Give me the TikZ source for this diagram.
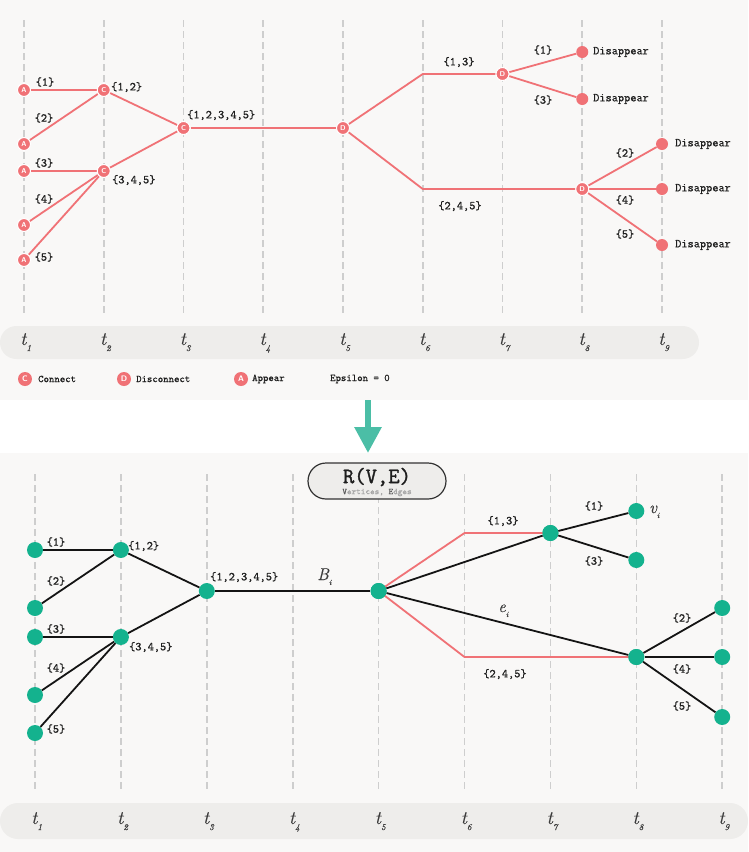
\documentclass[tikz,border=0pt]{standalone}
\usepackage{fontspec}
\newfontfamily\labfont{Latin Modern Mono}[FakeBold=0.7]
\newfontfamily\titlefont{Latin Modern Mono}[FakeBold=1.4]
\newfontfamily\itfont{Latin Modern Roman}[FakeBold=0.4]
\usetikzlibrary{arrows.meta}
\definecolor{coral}{RGB}{240,114,118}
\definecolor{tealn}{RGB}{20,178,142}
\definecolor{arrowc}{RGB}{75,190,166}
\definecolor{bgc}{RGB}{249,248,247}
\definecolor{barc}{RGB}{238,237,235}
\definecolor{gridc}{RGB}{206,206,206}
\definecolor{txt}{RGB}{30,30,30}
\definecolor{mutec}{RGB}{60,60,60}
\tikzset{
  lbl/.style={font=\fontsize{12}{12}\selectfont\labfont, text=txt, inner sep=0pt},
  leg/.style={font=\fontsize{10.3}{10.3}\selectfont\labfont, text=txt, inner sep=0pt, anchor=west},
  gridline/.style={draw=gridc, line width=1.6pt, dash pattern=on 7pt off 4pt},
  redline/.style={draw=coral, line width=1.8pt},
  blkline/.style={draw=black!92, line width=1.8pt},
  ev/.style={circle, fill=coral, draw=white, line width=1pt, minimum size=13pt, inner sep=0pt, text=white, font=\sffamily\bfseries\fontsize{7}{7}\selectfont},
  legdot/.style={circle, fill=coral, minimum size=14pt, inner sep=0pt, text=white, font=\sffamily\bfseries\fontsize{8}{8}\selectfont},
  gone/.style={circle, fill=coral, minimum size=12pt, inner sep=0pt},
  vx/.style={circle, fill=tealn, minimum size=16pt, inner sep=0pt},
  tlab/.style={font=\fontsize{19}{19}\selectfont\itfont\itshape, text=mutec, inner sep=0pt, anchor=base west},
  mlab/.style={font=\fontsize{17}{17}\selectfont\itfont\itshape, text=mutec, inner sep=0pt},
  bar/.style={fill=barc, draw=none}
}
\newcommand{\tsub}[1]{t\raisebox{-6pt}{\fontsize{9}{9}\selectfont #1}}
\newcommand{\isub}{\raisebox{-5pt}{\fontsize{8}{8}\selectfont i}}
\begin{document}
\begin{tikzpicture}[x=1pt,y=-1pt]
\path[use as bounding box] (0,0) rectangle (748,852);
% panels
\fill[bgc] (0,0) rectangle (748,399.5);
\fill[bgc] (0,453) rectangle (748,852);

% ---------------- TOP PANEL ----------------
\foreach \x in {24,103.75,183.5,263.25,343,422.75,502.5,582.25,662}
  \draw[gridline] (\x,20) -- (\x,314);
\fill[bar, rounded corners=16.5pt] (0,326) rectangle (699,359);
\foreach \x/\n in {24/1,103.75/2,183.5/3,263.25/4,343/5,422.75/6,502.5/7,582.25/8,662/9}
  \node[tlab] (tt\n) at (\x-4,345) {\tsub{\n}};

% nodes
\node[ev] (A1) at (24,90) {A};
\node[ev] (A2) at (24,144) {A};
\node[ev] (A3) at (24,171) {A};
\node[ev] (A4) at (24,225) {A};
\node[ev] (A5) at (24,260) {A};
\node[ev] (C12) at (103.75,90) {C};
\node[ev] (C345) at (103.75,171) {C};
\node[ev] (Call) at (183.5,128) {C};
\node[ev] (D1) at (343,128) {D};
\coordinate (uT) at (422.75,74);
\coordinate (lT) at (422.75,189);
\node[ev] (D2) at (502.5,74) {D};
\node[ev] (D3) at (582.25,189) {D};
\node[gone] (G1) at (582.25,52) {};
\node[gone] (G3) at (582.25,99) {};
\node[gone] (G2) at (662,144) {};
\node[gone] (G4) at (662,189) {};
\node[gone] (G5) at (662,245) {};

\draw[redline] (A1) -- (C12);
\draw[redline] (A2) -- (C12);
\draw[redline] (A3) -- (C345);
\draw[redline] (A4) -- (C345);
\draw[redline] (A5) -- (C345);
\draw[redline] (C12) -- (Call);
\draw[redline] (C345) -- (Call);
\draw[redline] (Call) -- (D1);
\draw[redline, line join=round] (D1) -- (uT) -- (D2);
\draw[redline, line join=round] (D1) -- (lT) -- (D3);
\draw[redline] (D2) -- (G1);
\draw[redline] (D2) -- (G3);
\draw[redline] (D3) -- (G2);
\draw[redline] (D3) -- (G4);
\draw[redline] (D3) -- (G5);
% redraw event nodes on top of the lines
\foreach \nm/\x/\y/\l in {A1/24/90/A,A2/24/144/A,A3/24/171/A,A4/24/225/A,A5/24/260/A,C12/103.75/90/C,C345/103.75/171/C,Call/183.5/128/C,D1/343/128/D,D2/502.5/74/D,D3/582.25/189/D}
  \node[ev] (\nm top) at (\x,\y) {\l};

% top labels
\node[lbl] (l1) at (45,82) {\{1\}};
\node[lbl] (l2) at (44,118) {\{2\}};
\node[lbl] (l3) at (44,163) {\{3\}};
\node[lbl] (l4) at (44,199) {\{4\}};
\node[lbl] (l5) at (44,257) {\{5\}};
\node[lbl, anchor=west] (l12) at (111,87) {\{1,2\}};
\node[lbl, anchor=west] (l345) at (112,180) {\{3,4,5\}};
\node[lbl, anchor=west] (lall) at (187,115) {\{1,2,3,4,5\}};
\node[lbl] (l13) at (459,62) {\{1,3\}};
\node[lbl] (l1b) at (543,50) {\{1\}};
\node[lbl] (l3b) at (543,100) {\{3\}};
\node[lbl] (l245) at (460,206) {\{2,4,5\}};
\node[lbl] (l2b) at (625,153) {\{2\}};
\node[lbl] (l4b) at (625,200) {\{4\}};
\node[lbl] (l5b) at (625,234) {\{5\}};
\node[lbl, anchor=west] (dg1) at (593,52) {Disappear};
\node[lbl, anchor=west] (dg3) at (593,99) {Disappear};
\node[lbl, anchor=west] (dg2) at (675,144) {Disappear};
\node[lbl, anchor=west] (dg4) at (675,189) {Disappear};
\node[lbl, anchor=west] (dg5) at (675,245) {Disappear};

% legend
\node[legdot] (kC) at (25,379) {C};
\node[leg] (kCt) at (38,379) {Connect};
\node[legdot] (kD) at (124,379) {D};
\node[leg] (kDt) at (136,379) {Disconnect};
\node[legdot] (kA) at (241,379) {A};
\node[leg] (kAt) at (252,379) {Appear};
\node[leg] (kE) at (330,379) {Epsilon = 0};

% transition arrow
\coordinate (arS) at (368,400);
\coordinate (arE) at (368,453);
\draw[arrowc, line width=6pt, -{Triangle[width=26pt,length=26pt]}] (arS) -- (arE);

% ---------------- BOTTOM PANEL ----------------
\foreach \x in {35,120.9,206.8,292.7,378.6,464.5,550.4,636.3,722.2}
  \draw[gridline] (\x,474) -- (\x,791);
\fill[bar, rounded corners=18pt] (0,803) rectangle (748,839);
\foreach \x/\n in {35/1,120.9/2,206.8/3,292.7/4,378.6/5,464.5/6,550.4/7,636.3/8,722.2/9}
  \node[tlab] (bt\n) at (\x-4,824) {\tsub{\n}};

% title box
\node[draw=black!80, line width=1.2pt, fill=barc, rounded corners=18pt, minimum width=138pt, minimum height=36pt, inner sep=0pt] (title) at (377,481) {};
\node[font=\fontsize{22}{22}\selectfont\titlefont, text=txt, inner sep=0pt] (rve) at (377,477) {R(V,E)};
\node[font=\fontsize{8.8}{8.8}\selectfont\labfont, text=black!35, inner sep=0pt] (rvesub) at (377,492.5) {\textcolor{black!65}{V}ertices, \textcolor{black!65}{E}dges};

% vertices
\node[vx] (n1) at (35,550) {};
\node[vx] (n2) at (35,608) {};
\node[vx] (n3) at (35,637) {};
\node[vx] (n4) at (35,695) {};
\node[vx] (n5) at (35,733) {};
\node[vx] (m12) at (120.9,550) {};
\node[vx] (m345) at (120.9,637) {};
\node[vx] (mall) at (206.8,591) {};
\node[vx] (B) at (378.6,591) {};
\coordinate (bu) at (464.5,533);
\coordinate (bl) at (464.5,657);
\node[vx] (P13) at (550.4,533) {};
\node[vx] (V1) at (636.3,511) {};
\node[vx] (V3) at (636.3,560) {};
\node[vx] (P245) at (636.3,657) {};
\node[vx] (V2) at (722.2,608) {};
\node[vx] (V4) at (722.2,657) {};
\node[vx] (V5) at (722.2,717) {};

% edges
\draw[redline, line join=round] (B.center) -- (bu) -- (P13.center);
\draw[redline, line join=round] (B.center) -- (bl) -- (P245.center);
\draw[blkline] (n1) -- (m12);
\draw[blkline] (n2) -- (m12);
\draw[blkline] (m12) -- (mall);
\draw[blkline] (n3) -- (m345);
\draw[blkline] (n4) -- (m345);
\draw[blkline] (n5) -- (m345);
\draw[blkline] (m345) -- (mall);
\draw[blkline] (mall) -- (B);
\draw[blkline] (B) -- (P13);
\draw[blkline] (B) -- (P245);
\draw[blkline] (P13) -- (V1);
\draw[blkline] (P13) -- (V3);
\draw[blkline] (P245) -- (V2);
\draw[blkline] (P245) -- (V4);
\draw[blkline] (P245) -- (V5);
\foreach \nm/\x/\y in {B/378.6/591,P13/550.4/533,P245/636.3/657}
  \node[vx] (\nm top) at (\x,\y) {};

% bottom labels
\node[lbl] (b1) at (56,542) {\{1\}};
\node[lbl] (b2) at (56,581) {\{2\}};
\node[lbl] (b3) at (56,629) {\{3\}};
\node[lbl] (b4) at (56,668) {\{4\}};
\node[lbl] (b5) at (56,729) {\{5\}};
\node[lbl, anchor=west] (b12) at (128,546) {\{1,2\}};
\node[lbl, anchor=west] (b345) at (129,647) {\{3,4,5\}};
\node[lbl, anchor=west] (ball) at (210,577) {\{1,2,3,4,5\}};
\node[lbl] (b13) at (503,521) {\{1,3\}};
\node[lbl] (b1b) at (594,506) {\{1\}};
\node[lbl] (b3b) at (594,561) {\{3\}};
\node[lbl] (b245) at (505,674) {\{2,4,5\}};
\node[lbl] (b2b) at (682,618) {\{2\}};
\node[lbl] (b4b) at (682,669) {\{4\}};
\node[lbl] (b5b) at (682,706) {\{5\}};
\node[mlab, anchor=base west] (Bi) at (317,580) {B\isub};
\node[mlab, anchor=base west] (ei) at (498,612) {e\isub};
\node[mlab, anchor=base west] (vi) at (649,513) {v\isub};
\end{tikzpicture}
\end{document}
